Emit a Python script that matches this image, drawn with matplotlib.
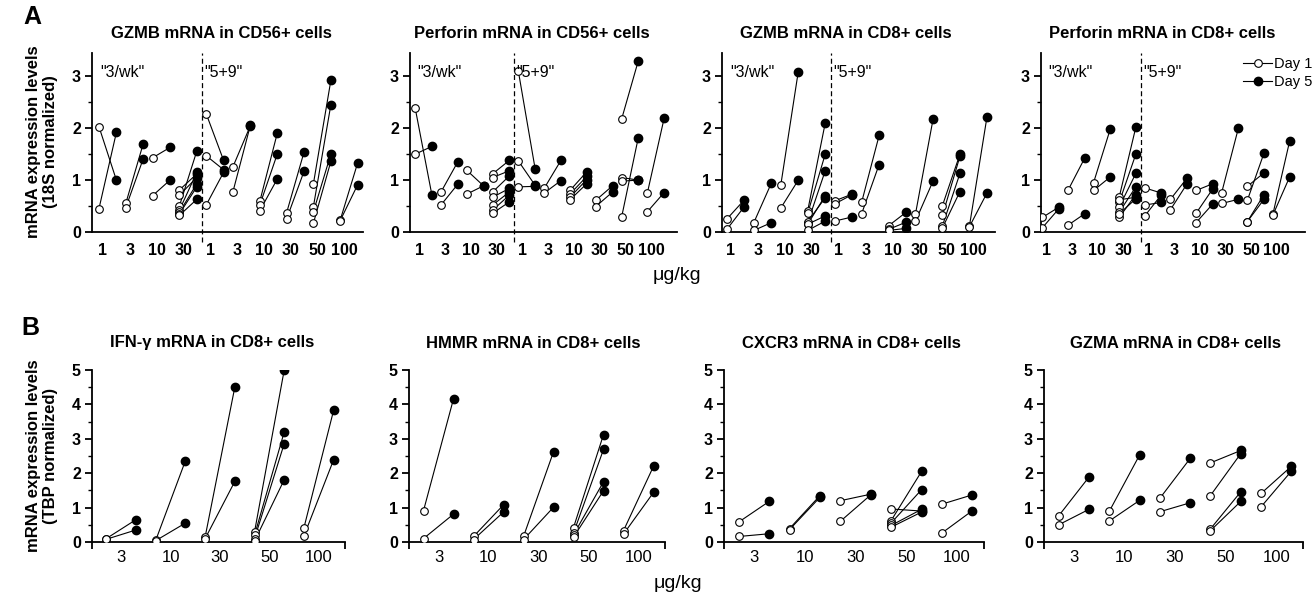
import matplotlib
matplotlib.use('Agg')
import matplotlib.pyplot as plt
from matplotlib.ticker import FixedLocator
from matplotlib.lines import Line2D

plt.rcParams['font.family'] = ['Liberation Sans', 'DejaVu Sans']

W, H = 1316, 596

top_labels = ['1', '3', '10', '30', '1', '3', '10', '30', '50', '100']
bot_labels = ['3', '10', '30', '50', '100']

# ---- Panel A (18S normalized); each inner list = animals of one dose group
gzmb56_d1 = [[2.03, 0.45], [0.55, 0.47], [1.43, 0.70], [0.81, 0.71, 0.50, 0.42, 0.38, 0.35, 0.32],
             [2.28, 1.47, 0.52], [1.26, 0.78], [0.59, 0.52, 0.41], [0.37, 0.25], [0.93, 0.49, 0.39, 0.17], [0.23, 0.22]]
gzmb56_d5 = [[1.00, 1.92], [1.70, 1.41], [1.63, 1.00], [1.12, 1.05, 1.56, 1.15, 0.93, 0.87, 0.63],
             [1.38, 1.20, 1.15], [2.05, 2.06], [1.90, 1.50, 1.02], [1.54, 1.17], [2.92, 2.45, 1.50, 1.36], [1.33, 0.91]]

perf56_d1 = [[2.39, 1.50], [0.77, 0.52], [1.19, 0.73], [1.12, 1.05, 0.77, 0.67, 0.52, 0.42, 0.36],
             [3.10, 1.37, 0.87], [0.84, 0.75], [0.80, 0.73, 0.67, 0.62], [0.61, 0.49], [2.17, 1.05, 0.98, 0.28], [0.75, 0.39]]
perf56_d5 = [[0.71, 1.65], [1.35, 0.92], [0.89, 0.89], [1.38, 1.18, 1.08, 0.84, 0.77, 0.71, 0.58],
             [1.22, 0.90, 0.88], [1.38, 0.99], [1.16, 1.07, 1.01, 0.93], [0.89, 0.77], [3.30, 1.00, 1.00, 1.82], [2.19, 0.76]]

gzmb8_d1 = [[0.25, 0.05], [0.18, 0.03], [0.90, 0.46], [0.41, 0.36, 0.18, 0.15, 0.20, 0.15, 0.03],
            [0.60, 0.54, 0.21], [0.57, 0.35], [0.12, 0.05, 0.03], [0.35, 0.21], [0.51, 0.32, 0.12, 0.08], [0.11, 0.10]]
gzmb8_d5 = [[0.62, 0.49], [0.94, 0.18], [3.09, 1.00], [2.10, 1.50, 1.18, 0.70, 0.66, 0.31, 0.21],
            [0.73, 0.72, 0.29], [1.86, 1.30], [0.38, 0.19, 0.07], [2.17, 0.98], [1.50, 1.46, 1.13, 0.78], [2.21, 0.75]]

perf8_d1 = [[0.28, 0.08], [0.80, 0.13], [0.95, 0.80], [0.67, 0.57, 0.48, 0.38, 0.28, 0.35, 0.62],
            [0.85, 0.52, 0.31], [0.63, 0.43], [0.80, 0.36, 0.18], [0.76, 0.55], [0.88, 0.61, 0.20, 0.20], [0.35, 0.33]]
perf8_d5 = [[0.48, 0.45], [1.42, 0.35], [1.98, 1.06], [2.02, 1.50, 1.13, 0.87, 0.72, 0.64, 0.67],
            [0.75, 0.57, 0.72], [1.04, 0.93], [0.93, 0.83, 0.54], [2.00, 0.63], [1.14, 1.52, 0.72, 0.63], [1.75, 1.06]]

# ---- Panel B (TBP normalized)
ifng_d1 = [[0.10, 0.08], [0.05, 0.04], [0.15, 0.10], [0.30, 0.20, 0.10, 0.03], [0.42, 0.18]]
ifng_d5 = [[0.65, 0.35], [2.36, 0.55], [4.50, 1.76], [5.00, 3.20, 2.86, 1.81], [3.83, 2.39]]
hmmr_d1 = [[0.91, 0.10], [0.16, 0.07], [0.16, 0.07], [0.42, 0.26, 0.21, 0.14], [0.33, 0.23]]
hmmr_d5 = [[4.16, 0.81], [1.08, 0.87], [2.62, 1.01], [3.12, 2.69, 1.75, 1.49], [2.20, 1.44]]
cxcr3_d1 = [[0.58, 0.16], [0.39, 0.36], [1.20, 0.60], [0.96, 0.62, 0.55, 0.48, 0.43], [1.10, 0.26]]
cxcr3_d5 = [[1.18, 0.24], [1.35, 1.30], [1.39, 1.37], [0.90, 2.05, 1.52, 0.95, 0.87], [1.37, 0.91]]
gzma_d1 = [[0.76, 0.50], [0.89, 0.61], [1.27, 0.88], [2.30, 1.35, 0.38, 0.33], [1.41, 1.02]]
gzma_d5 = [[1.89, 0.95], [2.53, 1.21], [2.43, 1.14], [2.66, 2.57, 1.46, 1.18], [2.20, 2.06]]

top_yticks = [0, 1, 2, 3]
bot_yticks = [0, 1, 2, 3, 4, 5]


def rect(x0, x1, ytop, ybot):
    return [x0 / W, 1 - ybot / H, (x1 - x0) / W, (ybot - ytop) / H]


def fx(x):
    return x / W


def fy(y):
    return 1 - y / H


fig = plt.figure(figsize=(W / 100, H / 100), dpi=100)


def draw_pairs(ax, d1, d5, off1, off5):
    for i, (g1, g5) in enumerate(zip(d1, d5)):
        for a, b in zip(g1, g5):
            ax.plot([i + off1, i + off5], [a, b], color='black', lw=0.8, zorder=2)
        ax.plot([i + off1] * len(g1), g1, 'o', mfc='white', mec='black', mew=0.8, ms=5.5, ls='none', zorder=3)
        ax.plot([i + off5] * len(g5), g5, 'o', mfc='black', mec='black', ms=6, ls='none', zorder=4)


def style(ax, yt, minor):
    for s in ['top', 'right']:
        ax.spines[s].set_visible(False)
    for s in ['left', 'bottom']:
        ax.spines[s].set_linewidth(1.3)
    ax.set_yticks(yt)
    ax.set_yticklabels([str(v) for v in yt], fontsize=11.5, fontweight='bold')
    ax.yaxis.set_minor_locator(FixedLocator(minor))
    ax.tick_params(axis='y', which='major', direction='out', length=5, width=1.3, pad=3)
    ax.tick_params(axis='y', which='minor', direction='out', length=3, width=1.0)


top_panels = [
    ('GZMB mRNA in CD56+ cells', gzmb56_d1, gzmb56_d5, (92, 363, 53, 232), (-0.41, 9.7), 221),
    ('Perforin mRNA in CD56+ cells', perf56_d1, perf56_d5, (410, 677, 53, 232), (-0.35, 10.0), 532),
    ('GZMB mRNA in CD8+ cells', gzmb8_d1, gzmb8_d5, (722, 995, 53, 232), (-0.33, 9.8), 846),
    ('Perforin mRNA in CD8+ cells', perf8_d1, perf8_d5, (1041, 1305, 53, 232), (-0.2, 10.1), 1162),
]

top_axes = []
for title, d1, d5, r, xl, tx in top_panels:
    ax = fig.add_axes(rect(*r))
    draw_pairs(ax, d1, d5, -0.15, 0.5)
    ax.set_xlim(*xl)
    ax.set_ylim(0, 3.45)
    ax.set_xticks(range(len(top_labels)))
    ax.set_xticklabels(top_labels, fontsize=11.5, fontweight='bold')
    ax.tick_params(axis='x', length=0, pad=8)
    style(ax, top_yticks, [0.5, 1.5, 2.5])
    ax.plot([3.7, 3.7], [-0.2, 3.45], ls=(0, (4, 2.5)), color='black', lw=0.9, clip_on=False, zorder=1)
    ax.text(xl[0] + 0.3, 3.07, '"3/wk"', fontsize=11.5, ha='left', va='center')
    ax.text(3.78, 3.07, '"5+9"', fontsize=11.5, ha='left', va='center')
    fig.text(fx(tx), fy(33), title, fontsize=12, fontweight='bold', ha='center', va='center')
    top_axes.append(ax)

# legend in last top panel
h1 = Line2D([], [], color='black', lw=0.8, marker='o', mfc='white', mec='black', mew=0.8, ms=5.5)
h5 = Line2D([], [], color='black', lw=0.8, marker='o', mfc='black', mec='black', ms=6)
top_axes[-1].legend([h1, h5], ['Day 1', 'Day 5'], loc='upper left', bbox_to_anchor=(fx(1243), fy(57)),
                    bbox_transform=fig.transFigure, frameon=False, fontsize=10.5, handlelength=2.0,
                    handletextpad=0.15, labelspacing=0.25, borderpad=0, borderaxespad=0)

bot_panels = [
    ('IFN-γ mRNA in CD8+ cells', ifng_d1, ifng_d5, (92, 345, 370, 542), 212),
    ('HMMR mRNA in CD8+ cells', hmmr_d1, hmmr_d5, (409, 665, 370, 542), 533),
    ('CXCR3 mRNA in CD8+ cells', cxcr3_d1, cxcr3_d5, (724, 984, 370, 542), 851),
    ('GZMA mRNA in CD8+ cells', gzma_d1, gzma_d5, (1044, 1303, 370, 542), 1175),
]

for title, d1, d5, r, tx in bot_panels:
    ax = fig.add_axes(rect(*r))
    draw_pairs(ax, d1, d5, -0.3, 0.3)
    xl = (-0.59, 4.53)
    ax.set_xlim(*xl)
    ax.set_ylim(0, 5)
    ax.set_xticks(range(len(bot_labels)))
    ax.set_xticklabels(bot_labels, fontsize=12)
    ax.tick_params(axis='x', which='major', length=0, pad=6)
    ax.xaxis.set_minor_locator(FixedLocator([xl[0], xl[1]]))
    ax.tick_params(axis='x', which='minor', direction='out', length=5, width=1.3)
    style(ax, bot_yticks, [0.5, 1.5, 2.5, 3.5, 4.5])
    fig.text(fx(tx), fy(343), title, fontsize=12, fontweight='bold', ha='center', va='center')

# y labels
fig.text(fx(42), fy(142), 'mRNA expression levels\n(18S normalized)', rotation=90, fontsize=12,
         fontweight='bold', ha='center', va='center', linespacing=1.15)
fig.text(fx(42), fy(456), 'mRNA expression levels\n(TBP normalized)', rotation=90, fontsize=12,
         fontweight='bold', ha='center', va='center', linespacing=1.15)

# x labels
fig.text(fx(677), fy(276), 'μg/kg', fontsize=14, ha='center', va='center')
fig.text(fx(678), fy(584), 'μg/kg', fontsize=14, ha='center', va='center')

# panel letters
fig.text(fx(32), fy(17), 'A', fontsize=18, fontweight='bold', ha='center', va='center')
fig.text(fx(30), fy(328), 'B', fontsize=18, fontweight='bold', ha='center', va='center')

fig.savefig('out.png', dpi=100)
